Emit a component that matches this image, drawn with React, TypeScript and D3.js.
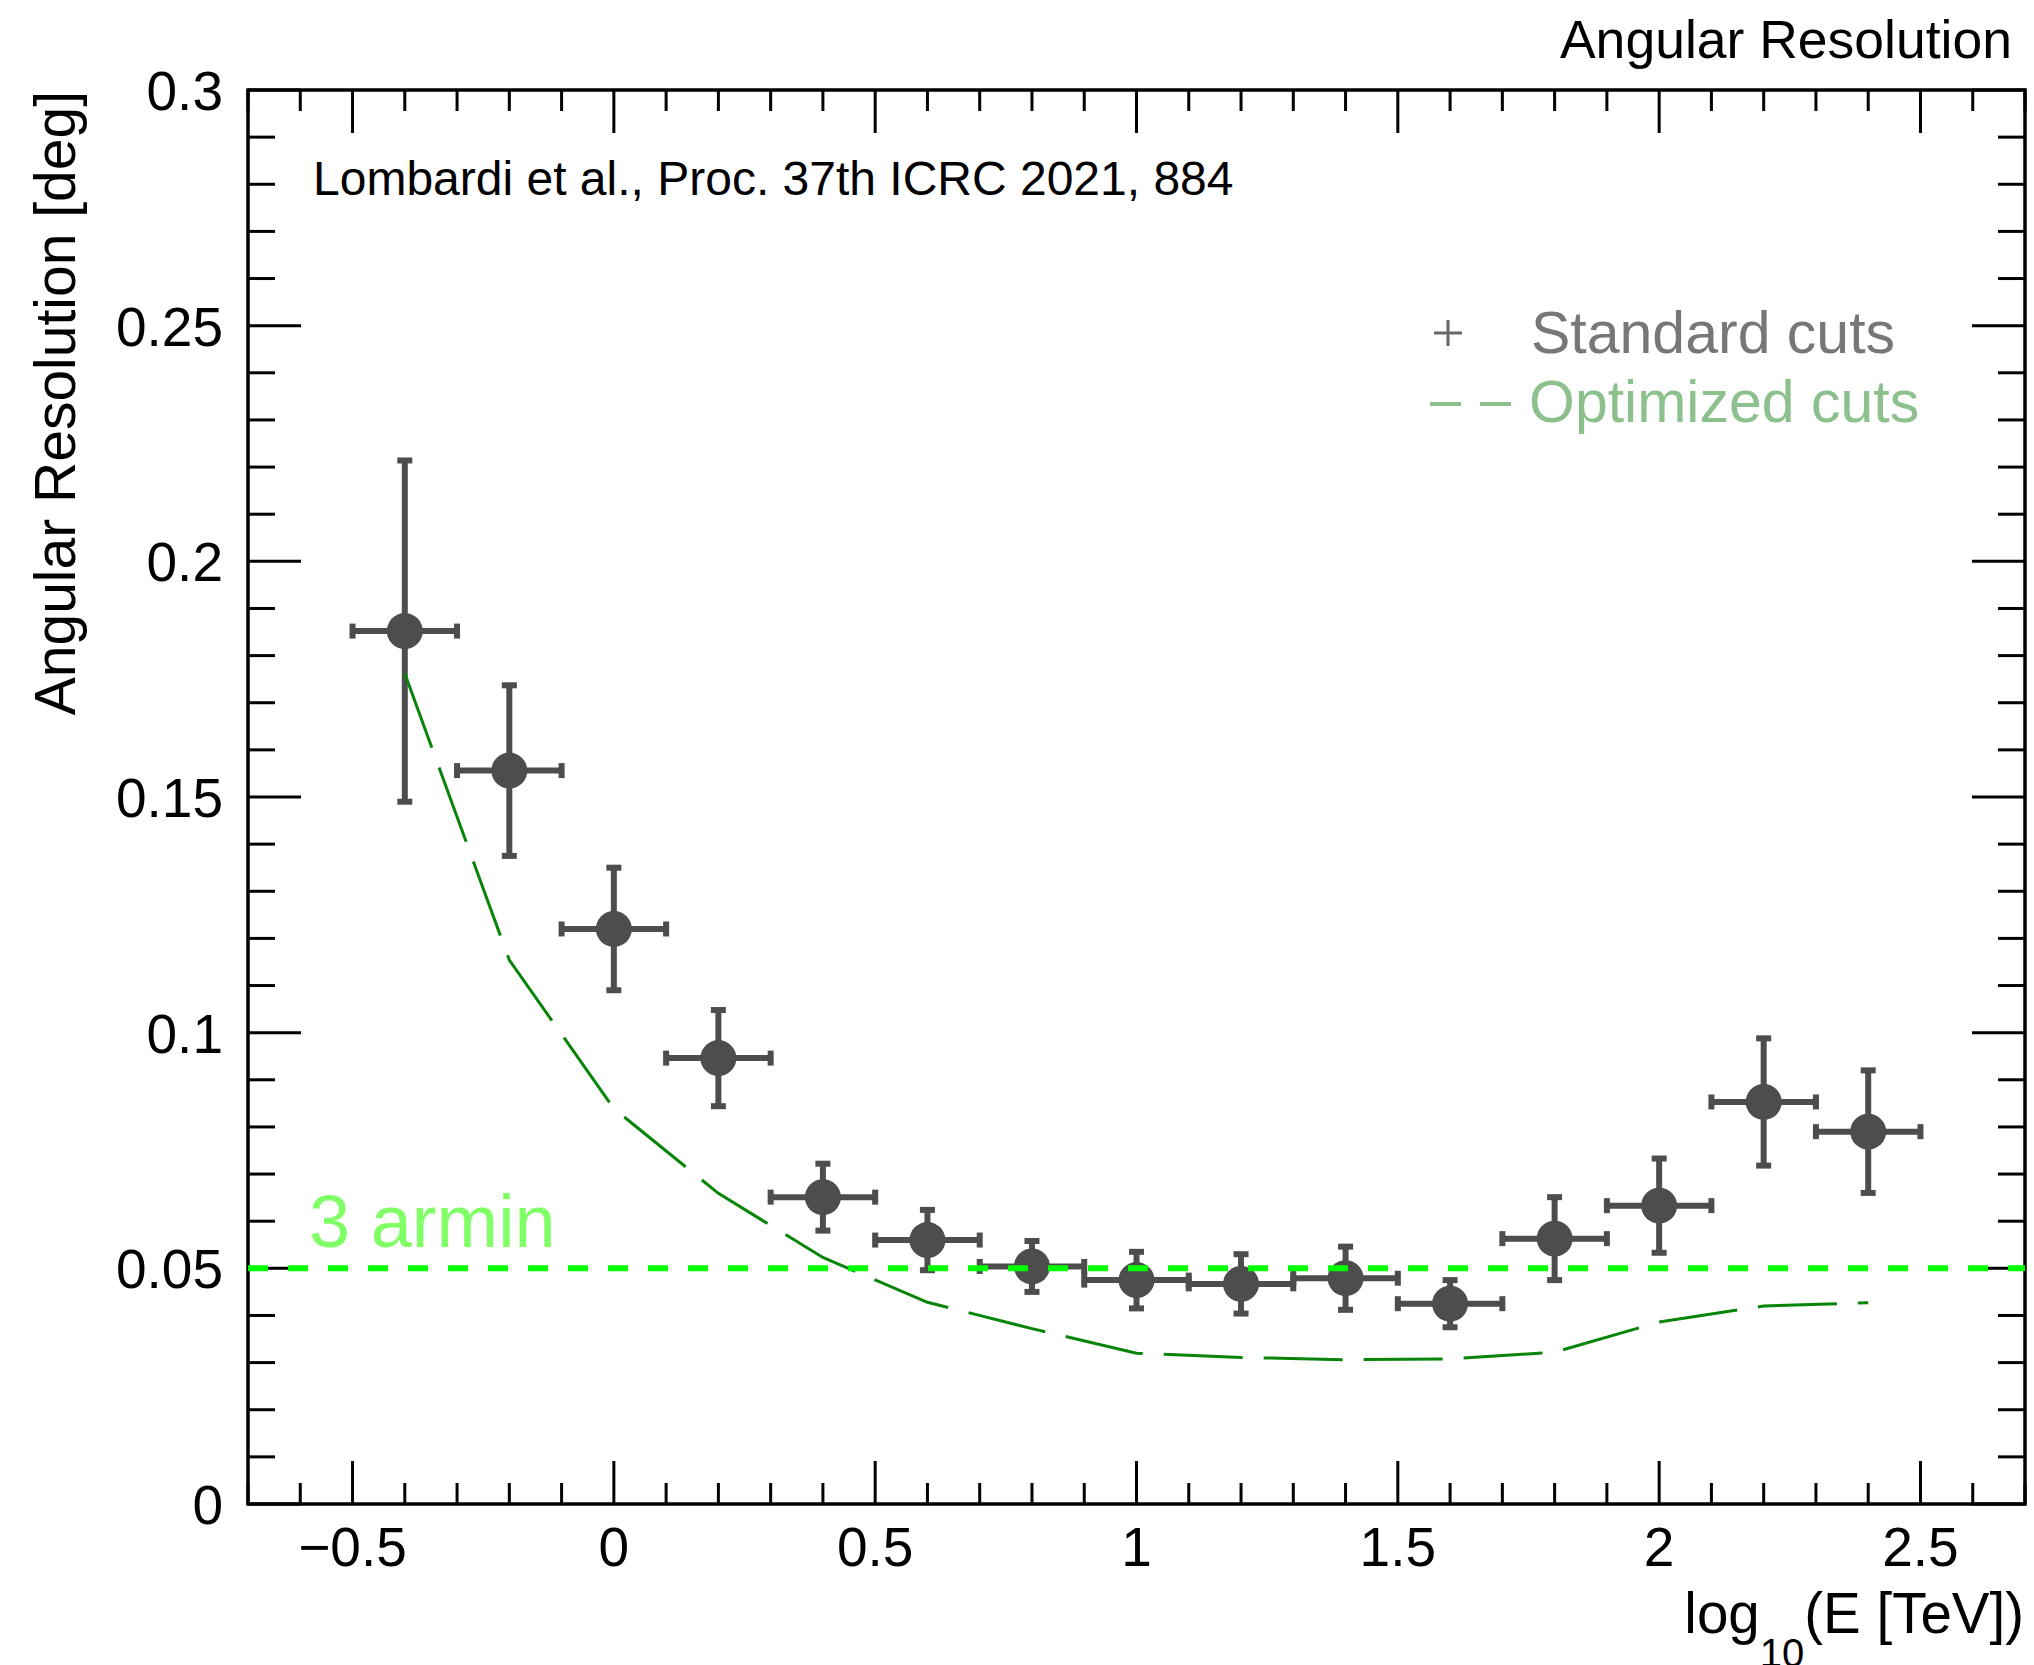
import React from "react";
import * as d3 from "d3";

const energies = [-0.4, -0.2, 0, 0.2, 0.4, 0.6, 0.8, 1.0, 1.2, 1.4, 1.6, 1.8, 2.0, 2.2, 2.4];
const energyErr = [0.1, 0.1, 0.1, 0.1, 0.1, 0.1, 0.1, 0.1, 0.1, 0.1, 0.1, 0.1, 0.1, 0.1, 0.1];
const standardRes = [0.1852, 0.1556, 0.122, 0.0946, 0.0651, 0.056, 0.0504, 0.0475, 0.0467, 0.0479, 0.0425, 0.0563, 0.0633, 0.0853, 0.079];
const standardErr = [0.0362, 0.0181, 0.013, 0.0102, 0.0071, 0.0064, 0.0054, 0.006, 0.0063, 0.0067, 0.005, 0.0088, 0.01, 0.0135, 0.013];
const optimizedRes = [0.1762, 0.1154, 0.0839, 0.0659, 0.0523, 0.0428, 0.0372, 0.032, 0.0311, 0.0306, 0.0308, 0.0322, 0.0386, 0.042, 0.0427];
const threeArcmin = 0.05;

const xMajorTicks = [-0.5, 0, 0.5, 1, 1.5, 2, 2.5];
const xMajorLabels = ["\u22120.5", "0", "0.5", "1", "1.5", "2", "2.5"];
const yMajorTicks = [0, 0.05, 0.1, 0.15, 0.2, 0.25, 0.3];
const yMajorLabels = ["0", "0.05", "0.1", "0.15", "0.2", "0.25", "0.3"];

const W = 2034;
const H = 1665;
const L = 248, R = 2025, T = 90, B = 1504;
const FONT = "'Liberation Sans', Arial, Helvetica, sans-serif";

export default function App() {
  const x = d3.scaleLinear().domain([-0.7, 2.7]).range([L, R]);
  const y = d3.scaleLinear().domain([0, 0.3]).range([B, T]);

  const xMinor = d3.range(-7, 28).map((v) => v / 10).filter((v) => !xMajorTicks.some((m) => Math.abs(m - v) < 1e-6));
  const yMinor = d3.range(0, 31).map((v) => v / 100).filter((v) => !yMajorTicks.some((m) => Math.abs(m - v) < 1e-6));

  const optLine = d3
    .line<number>()
    .x((_, i) => x(energies[i]))
    .y((d) => y(d));

  const gray = "#4d4d4d";
  const tickW = 3;

  return (
    <svg width={W} height={H} style={{ position: "absolute", left: 0, top: 0, background: "#fff" }} fontFamily={FONT}>
      <rect x={0} y={0} width={W} height={H} fill="#fff" />
      {/* title */}
      <text x={2012} y={58} fontSize={53.5} textAnchor="end" fill="#000">Angular Resolution</text>

      {/* ticks */}
      <g stroke="#000" strokeWidth={tickW}>
        {xMajorTicks.map((v) => (
          <g key={"xM" + v}>
            <line x1={x(v)} x2={x(v)} y1={B} y2={B - 43} />
            <line x1={x(v)} x2={x(v)} y1={T} y2={T + 43} />
          </g>
        ))}
        {xMinor.map((v) => (
          <g key={"xm" + v}>
            <line x1={x(v)} x2={x(v)} y1={B} y2={B - 21} />
            <line x1={x(v)} x2={x(v)} y1={T} y2={T + 21} />
          </g>
        ))}
        {yMajorTicks.map((v) => (
          <g key={"yM" + v}>
            <line x1={L} x2={L + 53} y1={y(v)} y2={y(v)} />
            <line x1={R} x2={R - 53} y1={y(v)} y2={y(v)} />
          </g>
        ))}
        {yMinor.map((v) => (
          <g key={"ym" + v}>
            <line x1={L} x2={L + 27} y1={y(v)} y2={y(v)} />
            <line x1={R} x2={R - 27} y1={y(v)} y2={y(v)} />
          </g>
        ))}
      </g>

      {/* frame */}
      <rect x={L} y={T} width={R - L} height={B - T} fill="none" stroke="#000" strokeWidth={3.5} />

      {/* tick labels */}
      {xMajorTicks.map((v, i) => (
        <text key={"xl" + v} x={x(v)} y={1566} fontSize={55} textAnchor="middle" fill="#000">
          {xMajorLabels[i]}
        </text>
      ))}
      {yMajorTicks.map((v, i) => (
        <text key={"yl" + v} x={223} y={y(v) + 20} fontSize={55} textAnchor="end" fill="#000">
          {yMajorLabels[i]}
        </text>
      ))}

      {/* axis titles */}
      <text x={2024} y={1633} fontSize={56.5} textAnchor="end" fill="#000">
        log
        <tspan fontSize={40} dy={34}>10</tspan>
        <tspan dy={-34}>(E [TeV])</tspan>
      </text>
      <text transform={`translate(75, ${T + 1}) rotate(-90)`} fontSize={57} textAnchor="end" fill="#000">
        Angular Resolution [deg]
      </text>

      {/* annotation */}
      <text x={313} y={195} fontSize={48} fill="#000">Lombardi et al., Proc. 37th ICRC 2021, 884</text>

      {/* standard cuts points */}
      <g fill={gray} stroke="none">
        {energies.map((e, i) => {
          const cx = x(e);
          const cy = y(standardRes[i]);
          const xl = x(e - energyErr[i]);
          const xr = x(e + energyErr[i]);
          const yt = y(standardRes[i] + standardErr[i]);
          const yb = y(standardRes[i] - standardErr[i]);
          return (
            <g key={"p" + i}>
              <line x1={xl} x2={xr} y1={cy} y2={cy} stroke={gray} strokeWidth={6} />
              <line x1={cx} x2={cx} y1={yt} y2={yb} stroke={gray} strokeWidth={6} />
              <rect x={xl - 3} y={cy - 7.5} width={6} height={15} />
              <rect x={xr - 3} y={cy - 7.5} width={6} height={15} />
              <rect x={cx - 7.5} y={yt - 3} width={15} height={6} />
              <rect x={cx - 7.5} y={yb - 3} width={15} height={6} />
              <circle cx={cx} cy={cy} r={18} />
            </g>
          );
        })}
      </g>

      {/* optimized cuts */}
      <path d={optLine(optimizedRes) || ""} fill="none" stroke="#088508" strokeWidth={3} strokeDasharray="79 21" />

      {/* 3 arcmin line */}
      <line x1={L} x2={R} y1={y(threeArcmin)} y2={y(threeArcmin)} stroke="#00ff00" strokeWidth={6} strokeDasharray="20 20" />
      <text x={309} y={1247} fontSize={74} fill="#80ff66">3 armin</text>

      {/* legend */}
      <g stroke="#666" strokeWidth={3}>
        <line x1={1434} x2={1462} y1={333} y2={333} />
        <line x1={1448} x2={1448} y1={320} y2={346} />
      </g>
      <text x={1531} y={353} fontSize={59} fill="#777">Standard cuts</text>
      <line x1={1430} x2={1511} y1={404} y2={404} stroke="#8cc08c" strokeWidth={4} strokeDasharray="31 19" />
      <text x={1529} y={422} fontSize={59} fill="#8cc08c">Optimized cuts</text>
    </svg>
  );
}
